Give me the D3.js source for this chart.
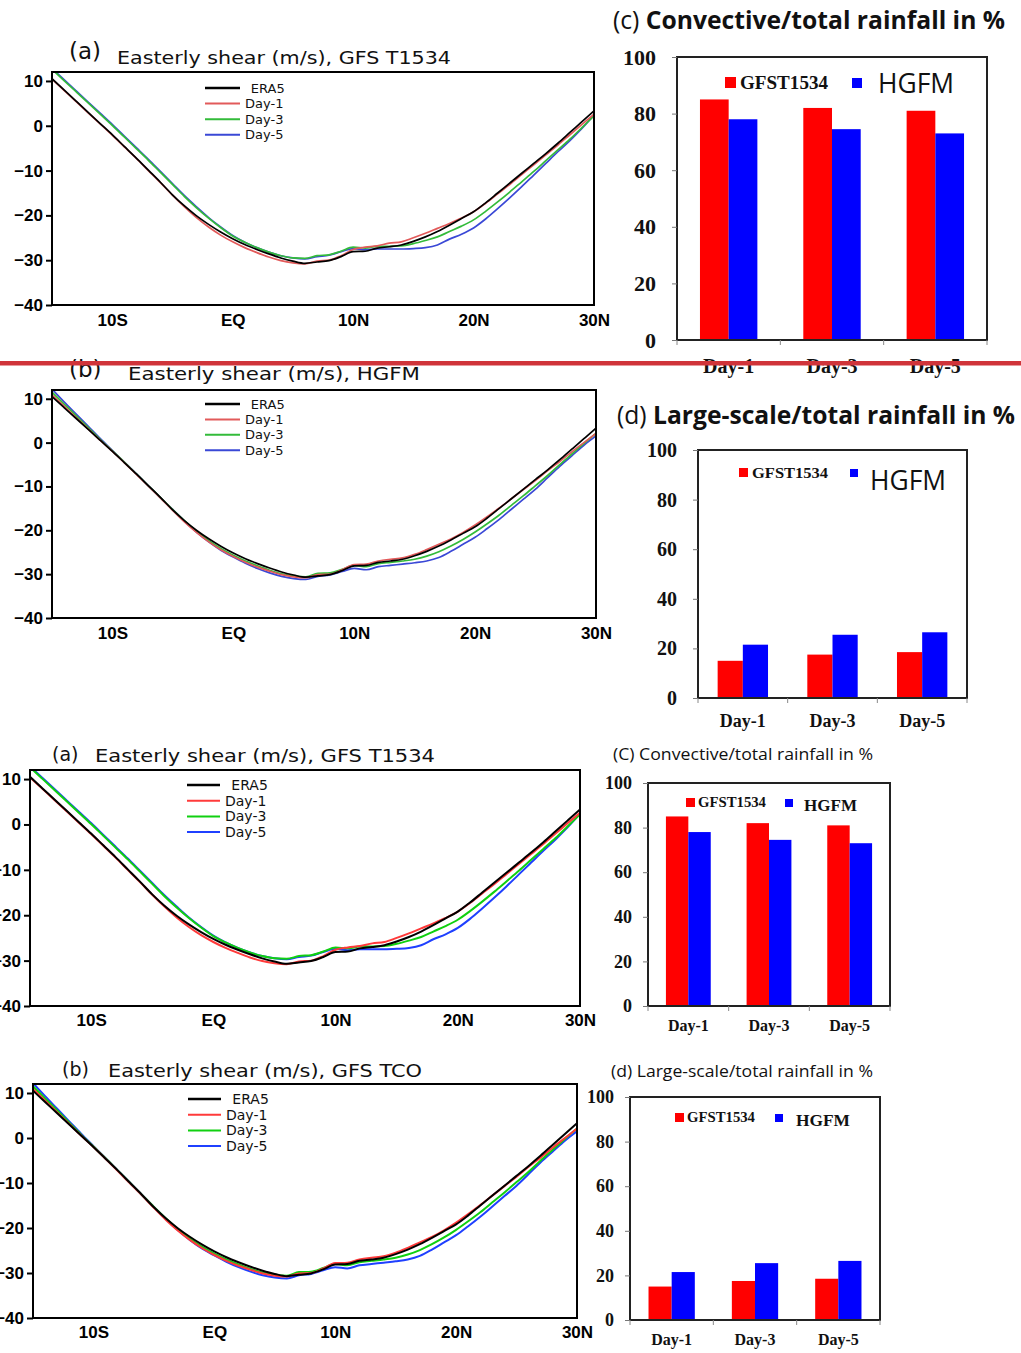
<!DOCTYPE html>
<html>
<head>
<meta charset="utf-8">
<script src="https://cdn.jsdelivr.net/npm/d3@7"></script>
<style>
  body { margin: 0; background: #fff; }
  svg { display: block; }
</style>
</head>
<body>
<svg id="fig" width="1021" height="1353"></svg>
<script>
// ---- data -------------------------------------------------------------
// latitude grid, 15S .. 30N, one value per degree
const lats = d3.range(-15, 31);

// zonal-mean easterly shear (m/s)
const era5 = [10.5, 8.0, 5.5, 3.0, 0.5, -2.0, -4.6, -7.2, -9.9, -12.6, -15.4, -17.9, -20.1, -22.0, -23.7,
  -25.2, -26.5, -27.6, -28.6, -29.5, -30.2, -30.7, -30.4, -30.1, -29.2,
  -28.1, -28.0, -27.3, -27.0, -26.6, -25.8, -24.8, -23.6, -22.2, -20.7,
  -19.2, -17.2, -15.0, -12.8, -10.6, -8.4, -6.2, -3.9, -1.5, 0.9, 3.3];

const t1534Day1 = [10.4, 7.9, 5.4, 2.9, 0.4, -2.1, -4.7, -7.3, -10.0, -12.7, -15.5, -18.1, -20.5, -22.6, -24.4,
  -25.9, -27.2, -28.3, -29.3, -30.1, -30.6, -30.8, -30.2, -30.0, -29.0,
  -27.6, -27.1, -26.8, -26.2, -25.9, -25.0, -24.0, -22.9, -21.8, -20.6,
  -19.2, -17.3, -15.2, -13.1, -10.9, -8.7, -6.5, -4.3, -2.0, 0.3, 2.6];

const t1534Day3 = [12.6, 10.1, 7.6, 5.1, 2.6, 0.1, -2.5, -5.1, -7.7, -10.4, -13.1, -15.8, -18.3, -20.6, -22.7,
  -24.6, -26.0, -27.2, -28.2, -29.0, -29.5, -29.6, -29.0, -28.8, -28.0,
  -27.1, -27.3, -26.9, -26.9, -26.8, -26.3, -25.6, -24.8, -23.6, -22.4,
  -21.0, -19.1, -17.0, -14.8, -12.5, -10.2, -7.8, -5.4, -3.0, -0.4, 2.2];

const t1534Day5 = [12.8, 10.3, 7.8, 5.3, 2.8, 0.3, -2.3, -4.9, -7.5, -10.2, -12.9, -15.6, -18.1, -20.5, -22.6,
  -24.5, -26.0, -27.2, -28.2, -29.0, -29.5, -29.7, -29.2, -28.9, -28.1,
  -27.4, -27.7, -27.5, -27.5, -27.5, -27.4, -27.2, -26.6, -25.3, -24.2,
  -22.8, -20.8, -18.5, -16.1, -13.6, -11.0, -8.4, -5.8, -3.3, -0.6, 2.4];

const hgfmDay1 = [10.9, 8.3, 5.7, 3.1, 0.5, -2.0, -4.6, -7.3, -10.0, -12.7, -15.5, -18.2, -20.6, -22.7, -24.5,
  -26.0, -27.3, -28.4, -29.3, -30.1, -30.6, -30.8, -30.1, -30.0, -29.0,
  -27.8, -27.7, -27.0, -26.6, -26.3, -25.5, -24.4, -23.2, -22.0, -20.5,
  -18.8, -16.9, -14.9, -12.8, -10.7, -8.6, -6.4, -4.3, -2.1, 0.0, 2.1];

const hgfmDay3 = [11.5, 8.8, 6.1, 3.4, 0.7, -1.9, -4.5, -7.2, -9.9, -12.6, -15.3, -17.9, -20.3, -22.4, -24.2,
  -25.7, -27.0, -28.1, -29.1, -29.9, -30.4, -30.6, -29.8, -29.7, -28.9,
  -28.0, -28.3, -27.6, -27.3, -27.0, -26.6, -25.9, -24.9, -23.6, -22.1,
  -20.4, -18.5, -16.5, -14.3, -12.1, -9.8, -7.5, -5.0, -2.6, -0.2, 2.1];

const hgfmDay5 = [12.2, 9.3, 6.5, 3.7, 0.9, -1.8, -4.5, -7.2, -9.9, -12.6, -15.3, -18.0, -20.5, -22.7, -24.6,
  -26.1, -27.5, -28.7, -29.7, -30.5, -31.0, -31.2, -30.5, -30.2, -29.4,
  -28.7, -29.0, -28.3, -28.0, -27.7, -27.4, -27.0, -26.2, -24.8, -23.2,
  -21.6, -19.6, -17.5, -15.2, -12.9, -10.6, -8.0, -5.4, -3.0, -0.6, 1.5];

const seriesNames = ["ERA5", "Day-1", "Day-3", "Day-5"];
const shearTicks = [10, 0, -10, -20, -30, -40];
const latTicks = [-10, 0, 10, 20, 30];
const latTickLabels = ["10S", "EQ", "10N", "20N", "30N"];

// rainfall fractions (%)
const dayLabels = ["Day-1", "Day-3", "Day-5"];
const modelNames = ["GFST1534", "HGFM"];
const convGFS = [85, 82, 81];
const convHGFM = [78, 74.5, 73];
const lsGFS = [15, 17.5, 18.5];
const lsHGFM = [21.5, 25.5, 26.5];
const pctTicks = [0, 20, 40, 60, 80, 100];

// ---- drawing ----------------------------------------------------------
const svg = d3.select("#fig");
const SANS = "'DejaVu Sans', 'Liberation Sans', sans-serif";
const BOLDSANS = "'Liberation Sans', Arial, sans-serif";
const SERIF = "'Liberation Serif', 'Times New Roman', serif";
const CAL = "'Open Sans', 'Noto Sans', sans-serif";

const fmtShear = d => d < 0 ? "\u2212" + Math.abs(d) : String(d);

function shearPanel(p) {
  const g = svg.append("g");
  const x = d3.scaleLinear().domain([-15, 30]).range([p.x0, p.x1]);
  const y = d3.scaleLinear().domain([-40, 12]).range([p.y1, p.y0]);

  g.append("clipPath").attr("id", p.id)
    .append("rect")
    .attr("x", p.x0).attr("y", p.y0)
    .attr("width", p.x1 - p.x0).attr("height", p.y1 - p.y0);

  const line = d3.line()
    .x((d, i) => x(lats[i]))
    .y(d => y(d))
    .curve(d3.curveMonotoneX);

  const plot = g.append("g").attr("clip-path", `url(#${p.id})`);
  // forecasts underneath, reanalysis on top
  for (let i = p.series.length - 1; i >= 0; i--) {
    plot.append("path")
      .datum(p.series[i])
      .attr("d", line)
      .attr("fill", "none")
      .attr("stroke", p.colors[i])
      .attr("stroke-width", p.lw)
      .attr("stroke-linejoin", "round");
  }

  g.append("rect")
    .attr("x", p.x0).attr("y", p.y0)
    .attr("width", p.x1 - p.x0).attr("height", p.y1 - p.y0)
    .attr("fill", "none").attr("stroke", "#000").attr("stroke-width", 2);

  const ya = g.append("g")
    .attr("transform", `translate(${p.x0},0)`)
    .call(d3.axisLeft(y).tickValues(shearTicks).tickSize(6).tickPadding(3).tickFormat(fmtShear));
  ya.select(".domain").remove();
  ya.selectAll(".tick line").attr("stroke", "#000").attr("stroke-width", 2);
  ya.selectAll(".tick text")
    .attr("font-family", BOLDSANS).attr("font-weight", "bold")
    .attr("font-size", p.fs).attr("fill", "#000");

  const xa = g.append("g")
    .attr("transform", `translate(0,${p.y1})`)
    .call(d3.axisBottom(x).tickValues(latTicks).tickSize(0).tickPadding(p.xpad)
      .tickFormat((d, i) => latTickLabels[i]));
  xa.select(".domain").remove();
  xa.selectAll(".tick text")
    .attr("font-family", BOLDSANS).attr("font-weight", "bold")
    .attr("font-size", p.fs).attr("fill", "#000");

  // panel title
  g.append("text")
    .attr("x", p.tagX).attr("y", p.tagY)
    .attr("font-family", SANS).attr("font-size", p.tagFs).attr("fill", "#111")
    .text(p.tag);
  g.append("text")
    .attr("x", p.titleX).attr("y", p.titleY)
    .attr("font-family", SANS).attr("font-size", p.titleFs).attr("fill", "#111")
    .attr("textLength", p.titleW).attr("lengthAdjust", "spacingAndGlyphs")
    .text(p.title);

  // legend
  const leg = g.append("g");
  seriesNames.forEach((name, i) => {
    const ly = p.legY + i * p.legDy;
    leg.append("line")
      .attr("x1", p.legX0).attr("x2", p.legX1)
      .attr("y1", ly).attr("y2", ly)
      .attr("stroke", p.colors[i]).attr("stroke-width", i === 0 ? 2.4 : 2);
    leg.append("text")
      .attr("x", i === 0 ? p.legTx + p.legFs * 0.45 : p.legTx)
      .attr("y", ly).attr("dy", "0.36em")
      .attr("font-family", SANS).attr("font-size", p.legFs).attr("fill", "#111")
      .text(name);
  });
}

function barPanel(p) {
  const g = svg.append("g");
  const x = d3.scaleBand().domain(dayLabels).range([p.x0, p.x1]).padding(0);
  const xi = d3.scaleBand().domain(modelNames).range([0, x.bandwidth()])
    .paddingInner(0).paddingOuter(p.outer);
  const y = d3.scaleLinear().domain([0, 100]).range([p.y1, p.y0]);
  const colors = { GFST1534: "#ff0000", HGFM: "#0000ff" };

  const rows = dayLabels.map((d, i) => ({ day: d, GFST1534: p.gfs[i], HGFM: p.hgfm[i] }));
  rows.forEach(r => {
    modelNames.forEach(m => {
      g.append("rect")
        .attr("x", x(r.day) + xi(m))
        .attr("y", y(r[m]))
        .attr("width", xi.bandwidth())
        .attr("height", y(0) - y(r[m]))
        .attr("fill", colors[m]);
    });
  });

  g.append("rect")
    .attr("x", p.x0).attr("y", p.y0)
    .attr("width", p.x1 - p.x0).attr("height", p.y1 - p.y0)
    .attr("fill", "none").attr("stroke", "#222").attr("stroke-width", 2);

  const ya = g.append("g")
    .attr("transform", `translate(${p.x0},0)`)
    .call(d3.axisLeft(y).tickValues(pctTicks).tickSize(5).tickPadding(p.ypad));
  ya.select(".domain").remove();
  ya.selectAll(".tick line").attr("stroke", "#777").attr("stroke-width", 1);
  ya.selectAll(".tick text")
    .attr("font-family", SERIF).attr("font-weight", "bold")
    .attr("font-size", p.yfs).attr("fill", "#111");

  // category separators below the baseline
  const seps = dayLabels.map(d => x(d)).concat([p.x1]);
  g.selectAll(null).data(seps).enter().append("line")
    .attr("x1", d => d).attr("x2", d => d)
    .attr("y1", p.y1).attr("y2", p.y1 + 5)
    .attr("stroke", "#888").attr("stroke-width", 1);

  g.selectAll(null).data(dayLabels).enter().append("text")
    .attr("x", d => x(d) + x.bandwidth() / 2)
    .attr("y", p.xlabY)
    .attr("text-anchor", "middle")
    .attr("font-family", SERIF).attr("font-weight", "bold")
    .attr("font-size", p.xfs).attr("fill", "#111")
    .text(d => d);

  // legend
  const L = p.leg;
  g.append("rect").attr("x", L.rx).attr("y", L.ry).attr("width", L.rs).attr("height", L.rs).attr("fill", colors.GFST1534);
  g.append("text").attr("x", L.gx).attr("y", L.gy)
    .attr("font-family", SERIF).attr("font-weight", "bold").attr("font-size", L.gfs).attr("fill", "#111")
    .attr("textLength", L.gw).attr("lengthAdjust", "spacingAndGlyphs")
    .text(modelNames[0]);
  g.append("rect").attr("x", L.bx).attr("y", L.by).attr("width", L.bs).attr("height", L.bs).attr("fill", colors.HGFM);
  g.append("text").attr("x", L.hx).attr("y", L.hy)
    .attr("font-family", L.hSerif ? SERIF : CAL)
    .attr("font-weight", L.hSerif ? "bold" : "normal")
    .attr("font-size", L.hfs).attr("fill", "#111")
    .attr("textLength", L.hw).attr("lengthAdjust", "spacingAndGlyphs")
    .text(modelNames[1]);

  // title
  const t = g.append("text")
    .attr("x", p.titleX).attr("y", p.titleY)
    .attr("font-family", CAL).attr("font-size", p.titleFs).attr("fill", "#111")
    .attr("textLength", p.titleW).attr("lengthAdjust", "spacingAndGlyphs");
  t.append("tspan").text(p.tag + " ");
  t.append("tspan").attr("font-weight", p.titleBold ? "bold" : "normal").text(p.title);
}

const softColors = ["#000000", "#e25a5a", "#33bb3a", "#3a48d6"];
const vividColors = ["#000000", "#ff3a3a", "#10d010", "#1f40ff"];

// (a) GFS T1534, upper copy
shearPanel({
  id: "clipA1", x0: 52, x1: 594, y0: 72, y1: 305,
  series: [era5, t1534Day1, t1534Day3, t1534Day5], colors: softColors, lw: 1.7,
  fs: 17, xpad: 9,
  tag: "(a)", tagX: 69, tagY: 59, tagFs: 23,
  title: "Easterly shear (m/s), GFS T1534", titleX: 117, titleY: 64, titleFs: 17, titleW: 334,
  legX0: 205, legX1: 240, legTx: 245, legY: 88, legDy: 15.6, legFs: 13
});

// (c) convective fraction, upper copy
barPanel({
  x0: 677, x1: 987, y0: 57, y1: 340, outer: 0.8,
  gfs: convGFS, hgfm: convHGFM,
  ypad: 16, yfs: 22, xfs: 20, xlabY: 373,
  leg: { rx: 725, ry: 77, rs: 11, gx: 740, gy: 89, gfs: 18, gw: 88,
         bx: 852, by: 78, bs: 10, hx: 878, hy: 93, hfs: 27, hw: 76, hSerif: false },
  tag: "(c)", title: "Convective/total rainfall in %", titleBold: true,
  titleX: 613, titleY: 29, titleFs: 25, titleW: 392
});

// (b) HGFM
shearPanel({
  id: "clipA2", x0: 52, x1: 596, y0: 390, y1: 618,
  series: [era5, hgfmDay1, hgfmDay3, hgfmDay5], colors: softColors, lw: 1.7,
  fs: 17, xpad: 9,
  tag: "(b)", tagX: 69, tagY: 377, tagFs: 23,
  title: "Easterly shear (m/s),  HGFM", titleX: 128, titleY: 380, titleFs: 17, titleW: 292,
  legX0: 205, legX1: 240, legTx: 245, legY: 404, legDy: 15.4, legFs: 13
});

// (d) large-scale fraction, upper copy
barPanel({
  x0: 698, x1: 967, y0: 450, y1: 698, outer: 0.78,
  gfs: lsGFS, hgfm: lsHGFM,
  ypad: 16, yfs: 20, xfs: 18, xlabY: 727,
  leg: { rx: 739, ry: 468, rs: 9, gx: 752, gy: 478, gfs: 15.5, gw: 76,
         bx: 850, by: 469, bs: 8, hx: 870, hy: 490, hfs: 27, hw: 76, hSerif: false },
  tag: "(d)", title: "Large-scale/total rainfall in %", titleBold: true,
  titleX: 617, titleY: 424, titleFs: 25, titleW: 398
});

// (a) GFS T1534, lower copy
shearPanel({
  id: "clipA3", x0: 30, x1: 580, y0: 770, y1: 1006,
  series: [era5, t1534Day1, t1534Day3, t1534Day5], colors: vividColors, lw: 2,
  fs: 17, xpad: 8,
  tag: "(a)", tagX: 52, tagY: 761, tagFs: 19,
  title: "Easterly shear (m/s), GFS T1534", titleX: 95, titleY: 762, titleFs: 18, titleW: 340,
  legX0: 187, legX1: 220, legTx: 225, legY: 785, legDy: 15.7, legFs: 14
});

// (C) convective fraction, lower copy
barPanel({
  x0: 648, x1: 890, y0: 783, y1: 1006, outer: 0.8,
  gfs: convGFS, hgfm: convHGFM,
  ypad: 11, yfs: 18, xfs: 16, xlabY: 1031,
  leg: { rx: 686, ry: 798, rs: 9, gx: 698, gy: 807, gfs: 14.5, gw: 68,
         bx: 785, by: 799, bs: 8, hx: 804, hy: 811, hfs: 17, hw: 53, hSerif: true },
  tag: "(C)", title: "Convective/total rainfall in %", titleBold: false,
  titleX: 613, titleY: 760, titleFs: 17, titleW: 260
});

// (b) GFS TCO
shearPanel({
  id: "clipA4", x0: 33, x1: 577, y0: 1084, y1: 1318,
  series: [era5, hgfmDay1, hgfmDay3, hgfmDay5], colors: vividColors, lw: 2,
  fs: 17, xpad: 8,
  tag: "(b)", tagX: 62, tagY: 1076, tagFs: 19,
  title: "Easterly shear (m/s), GFS TCO", titleX: 108, titleY: 1077, titleFs: 18, titleW: 314,
  legX0: 188, legX1: 221, legTx: 226, legY: 1099, legDy: 15.7, legFs: 14
});

// (d) large-scale fraction, lower copy
barPanel({
  x0: 630, x1: 880, y0: 1097, y1: 1320, outer: 0.8,
  gfs: lsGFS, hgfm: lsHGFM,
  ypad: 11, yfs: 18, xfs: 16, xlabY: 1345,
  leg: { rx: 675, ry: 1113, rs: 9, gx: 687, gy: 1122, gfs: 14.5, gw: 68,
         bx: 775, by: 1114, bs: 8, hx: 796, hy: 1126, hfs: 17, hw: 54, hSerif: true },
  tag: "(d)", title: "Large-scale/total rainfall in %", titleBold: false,
  titleX: 611, titleY: 1077, titleFs: 17, titleW: 262
});

// red divider between the upper pair of rows
svg.append("rect")
  .attr("x", 0).attr("y", 361).attr("width", 1021).attr("height", 4.5)
  .attr("fill", "#d0343a");
</script>
</body>
</html>
